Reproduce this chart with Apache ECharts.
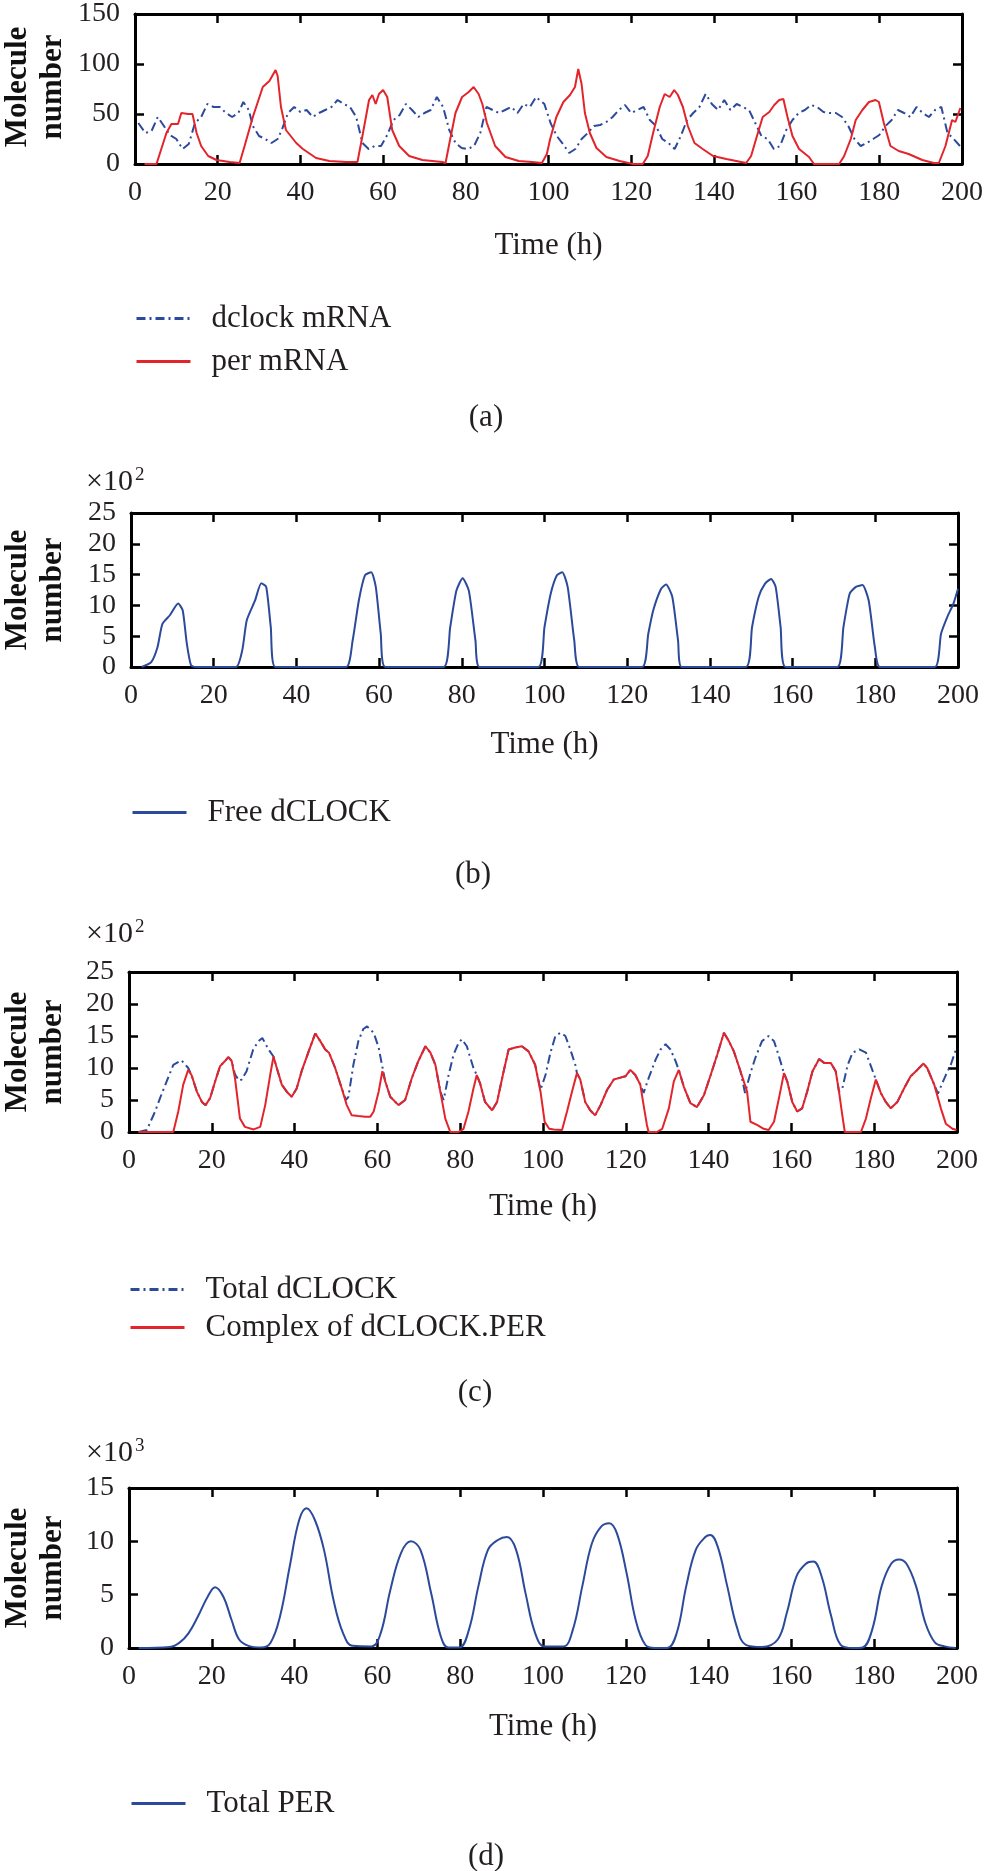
<!DOCTYPE html>
<html><head><meta charset="utf-8">
<script src="https://cdn.jsdelivr.net/npm/echarts@6/dist/echarts.min.js"></script>
<style>html,body{margin:0;padding:0;background:#fff}#c{width:987px;height:1871px}</style>
</head><body><div id="c"></div>
<script>
// ---------- data (time in h, values as plotted) ----------
const xTicks = {min: 0, max: 200, interval: 20};
const yScales = [ {max: 150, interval: 50}, {max: 25, interval: 5}, {max: 25, interval: 5}, {max: 15, interval: 5} ];
const panelLetters = ['(a)', '(b)', '(c)', '(d)'];
const multipliers = [null, '2', '2', '3'];

// (a) dclock mRNA
const dclockMrna = [[0.8,41],[2.5,31],[4,33],[5.5,47],[7,38],[8.4,29],[10,25],[11.5,15],[13,20],[14.5,41],[16,47],[17.5,60],[19,57],[20.5,57],[22,51],[23.5,47],[25,51],[26.2,62],[27.5,54],[28.5,38],[30,28],[31.5,25],[33,21],[34.5,25],[35.5,34],[37,51],[38.5,57],[40,52],[41.5,54],[43,47],[44.5,51],[46,54],[47.5,57],[49,64],[50.5,60],[52,57],[53.5,47],[55,21],[56.5,15],[58,18],[59.5,18],[61,29],[62.5,44],[64,49],[65.5,60],[67,54],[68.5,47],[70,51],[71.5,54],[73,67],[74.5,57],[76,34],[77.5,21],[79,16],[80.5,15],[82,18],[83.5,31],[85,57],[86.5,54],[88,51],[89.5,54],[91,57],[92.5,51],[94,60],[95.5,57],[97,67],[99,60],[100.5,41],[102,28],[103.5,20],[105,11],[106.5,15],[108,25],[109.5,31],[111,38],[112.5,39],[114,42],[115.5,47],[117,54],[118.5,59],[120,51],[121.5,54],[123,57],[124.5,44],[126,38],[127.5,25],[129,21],[130.5,15],[132,28],[133.5,44],[135,51],[136.5,57],[138,70],[139.5,60],[141,54],[142.5,64],[144,54],[145.5,60],[147,57],[148.5,54],[150,41],[151.5,28],[153,25],[154.5,15],[156,18],[157.5,34],[159,44],[160.5,51],[162,54],[163.5,59],[165,57],[166.5,52],[168,51],[169.5,51],[171,47],[172.5,38],[174,25],[175.5,18],[177,21],[178.5,25],[180,29],[181.5,38],[183,44],[184.5,54],[186,51],[187.5,47],[189,57],[190.5,51],[192,47],[193.5,54],[195,57],[196.5,31],[198,25],[199.5,18]];

// (a) per mRNA
const perMrna = [[2.3,0],[5.2,0],[7.6,31],[8.8,40],[10.4,40],[11.2,51],[12.9,50],[13.9,50],[14.9,31],[16,18],[17.7,8],[19.7,4],[22.9,2],[25.3,1],[26.5,18],[28.5,47],[30.9,77],[32.5,83],[34,94],[34.5,88],[35.3,57],[36.5,34],[39,21],[40.6,15],[43.8,6],[47,3],[51,2],[53.8,2],[55,28],[56.6,64],[57.4,69],[58.2,60],[59,70],[60,74],[61,67],[62.2,34],[63.9,18],[66.3,8],[69.5,4],[74.3,2],[75.1,1],[75.9,18],[77.5,51],[79.1,67],[80.7,72],[81.9,77],[83.1,70],[84,60],[85.1,41],[87.1,18],[89.6,7],[92.8,3],[96,2],[98.4,1],[99.6,10],[100.4,25],[101.9,47],[103.6,62],[105.2,69],[106.4,77],[107.2,95],[108,80],[108.8,51],[110,31],[111.6,16],[114,7],[117.2,3],[120.4,0],[122.8,0],[124,8],[125.3,31],[126.9,57],[128.1,70],[129.3,67],[130.4,74],[131.3,69],[132.5,57],[133.7,38],[135.3,21],[137.3,15],[139.8,8],[143,5],[145.4,3],[147.8,1],[149,8],[150.2,25],[151.8,47],[153.4,52],[154.6,59],[155.8,64],[156.8,65],[157.8,47],[159,28],[160.6,15],[163,7],[164.2,0],[170.3,0],[171.5,8],[173.1,25],[174.3,44],[175.9,54],[177.5,62],[179.1,64],[179.9,62],[181.1,41],[182.7,18],[184.7,13],[187.1,10],[190.4,4],[193.2,1],[194.4,1],[196,18],[197.6,44],[198.4,42],[199.6,56]];

// (b) free dCLOCK (x10^2)
const freeDclock = [[2.6,0],[4.9,0.8],[6.4,3.2],[7.6,7],[9.4,8.4],[11.4,10.3],[12.5,9.2],[13.5,3.8],[14.5,0.3],[15.5,0],[25.4,0],[26.9,2.7],[28,7.6],[30,10.8],[31.5,13.6],[32.7,13],[33.8,6.5],[34.9,0],[52,0],[53.6,4.3],[55.1,10.8],[56.6,14.9],[58.1,15.4],[59.2,13],[60.4,5.4],[61.5,0],[75.6,0],[77.2,6.5],[78.7,12.4],[80.2,14.4],[81.7,12.4],[83.3,4.3],[84.3,0],[98.5,0],[100,6.5],[101.5,11.9],[103,14.9],[104.3,15.4],[105.6,13],[107.2,4.3],[108.4,0],[123.6,0],[125.1,5.4],[126.3,9.2],[128.2,12.7],[129.4,13.4],[130.9,11.4],[132.3,4.3],[133.2,0],[148.7,0],[150.2,6.5],[151.8,11.4],[153.3,13.5],[154.8,14.3],[155.9,13],[157.1,6.5],[158.3,0],[170.8,0],[172.3,6.5],[173.8,11.9],[175.3,13],[176.9,13.3],[178.4,10.8],[179.9,3.2],[181.1,0],[194.4,0],[195.9,5.4],[197.4,8.1],[198.9,10.3],[200,12.7]];

// (c) total dCLOCK (x10^2)
const totalDclock = [[2.3,0],[4.3,0.3],[6.3,3.2],[7.5,5.3],[9.1,7.9],[10.7,10.5],[12.7,11.2],[14.3,10],[15.1,8.9],[16.4,6.3],[17.6,4.7],[18.5,4.2],[19.6,5.3],[20.8,7.9],[22,10.3],[23.2,11.1],[24,11.7],[24.8,11.1],[25.6,9.0],[26.6,8.0],[27.2,8.2],[28.4,9.5],[30,12.9],[31.3,14.2],[32.2,14.7],[33.7,12.9],[34.9,11.8],[35.7,10],[36.9,7.4],[38.1,6.3],[39.3,5.5],[40.5,6.8],[41.7,9.5],[43.4,12.6],[45,15.4],[46.2,14.2],[47.4,12.9],[48.3,12.4],[49.8,10],[51.4,6.8],[52.4,5.0],[53,5.5],[54.2,10.5],[55.4,14.2],[56.6,16.1],[57.5,16.5],[59.1,15.5],[60.3,13.2],[61.1,10.5],[61.9,7.9],[63.1,5.5],[65.1,4.2],[66.7,5],[68.3,8.4],[69.9,11.1],[71.6,13.4],[72.8,12.4],[74,10.5],[75.2,6.3],[76,5],[77.2,8.9],[78.4,12.1],[79.6,13.9],[80.4,14.5],[81.6,13.4],[83.2,10],[84,8.9],[84.8,7.6],[86,4.7],[87.7,3.4],[88.9,4.7],[90.5,9.5],[91.7,12.9],[93.3,13.2],[94.9,13.4],[96.5,12.6],[98.1,10.5],[99.4,6.6],[100.6,8.9],[101.8,12.4],[103,15],[104.2,15.5],[105.4,15],[106.6,12.9],[107.8,10.5],[108.2,9.2],[109,8.2],[110.2,4.7],[111.4,3.4],[112.6,2.6],[113.9,4.2],[115.5,6.6],[117.1,8.2],[118.7,8.5],[119.9,8.7],[121.1,9.7],[122.3,8.9],[123.5,7.4],[124.3,6.1],[125.5,8.4],[127.2,11.3],[128.4,12.9],[129.6,13.7],[130.8,12.9],[132,11.1],[132.8,9.7],[134,7.1],[135.6,4.5],[137.2,3.9],[138.9,5.8],[140.5,8.9],[142.1,12.1],[143.7,15.5],[144.9,14.2],[146.1,12.6],[147.7,9.5],[148.8,6.1],[150.1,9.2],[151.3,11.6],[152.9,14.2],[154.5,15],[155.8,14.2],[157,11.8],[158.2,9.2],[159,7.9],[160.2,4.7],[161.4,3.2],[162.6,3.7],[163.8,6.3],[165.1,9.5],[166.7,11.4],[167.9,10.8],[169.5,10.8],[170.7,9.5],[171.5,6.3],[172.3,6.8],[173.6,10.5],[174.8,12.4],[176.4,12.9],[178,12.4],[179.2,10.3],[180.4,8.2],[181.6,6.1],[182.8,4.7],[184,3.7],[185.6,4.7],[187.2,6.8],[188.8,8.7],[190.4,9.7],[191.9,10.7],[192.8,10],[194.5,7.4],[195.4,6.0],[196.1,7.1],[197.3,8.9],[198.5,10.5],[199.9,13.2]];

// (c) complex of dCLOCK.PER (x10^2)
const complexDclockPer = [[2.3,0],[10.7,0],[11.9,3.2],[13.1,7.4],[14.3,9.7],[15.1,8.9],[16.4,6.3],[17.6,4.7],[18.5,4.2],[19.6,5.3],[20.8,7.9],[22,10.3],[23.2,11.1],[24,11.7],[24.8,11.1],[25.6,8.4],[26.8,2.1],[28,0.8],[30.1,0.4],[31.7,0.8],[32.9,4.2],[34.1,8.9],[34.9,11.8],[35.7,10],[36.9,7.4],[38.1,6.3],[39.3,5.5],[40.5,6.8],[41.7,9.5],[43.4,12.6],[45,15.4],[46.2,14.2],[47.4,12.9],[48.3,12.4],[49.8,10],[51.4,6.8],[52.6,4.2],[53.8,2.6],[55.4,2.5],[57.1,2.4],[58.3,2.4],[59.1,3.2],[60.3,6.3],[61.2,9.5],[61.9,7.9],[63.1,5.5],[65.1,4.2],[66.7,5],[68.3,8.4],[69.9,11.1],[71.6,13.4],[72.8,12.4],[74,10.5],[75.2,6.3],[76.4,2.1],[77.6,0],[79.6,0],[80.8,0.5],[82,3.2],[83.2,6.8],[84,8.9],[84.8,7.6],[86,4.7],[87.7,3.4],[88.9,4.7],[90.5,9.5],[91.7,12.9],[93.3,13.2],[94.9,13.4],[96.5,12.6],[98.1,10.5],[99.4,6.3],[100.4,1.6],[101.5,0.5],[102.6,0.4],[104.6,0.3],[105.8,3.2],[107,6.3],[108.2,9.2],[109,8.2],[110.2,4.7],[111.4,3.4],[112.6,2.6],[113.9,4.2],[115.5,6.6],[117.1,8.2],[118.7,8.5],[119.9,8.7],[121.1,9.7],[122.3,8.9],[123.5,7.4],[124.3,4.2],[125.1,1.1],[125.5,0],[127.5,0],[128.8,0.5],[130.4,3.7],[131.6,7.9],[132.8,9.7],[134,7.1],[135.6,4.5],[137.2,3.9],[138.9,5.8],[140.5,8.9],[142.1,12.1],[143.7,15.5],[144.9,14.2],[146.1,12.6],[147.7,9.5],[149.3,6.3],[150.1,1.6],[151.7,1.1],[153.3,0.5],[154.5,0.3],[155.8,1.6],[157,5.3],[158.2,9.2],[159,7.9],[160.2,4.7],[161.4,3.2],[162.6,3.7],[163.8,6.3],[165.1,9.5],[166.7,11.4],[167.9,10.8],[169.5,10.8],[170.7,9.5],[171.5,6.3],[172.3,2.6],[172.9,0],[176.8,0],[178,2.1],[179.2,5.3],[180.4,8.2],[181.6,6.1],[182.8,4.7],[184,3.7],[185.6,4.7],[187.2,6.8],[188.8,8.7],[190.4,9.7],[191.9,10.7],[192.8,10],[194.5,7.4],[196.1,3.7],[197.3,1.3],[198.9,0.5],[199.9,0.3]];

// (d) total PER (x10^3)
const totalPer = [[2.3,0],[9.9,0.1],[12.2,0.5],[14.4,1.4],[16.7,3],[19,4.8],[20.8,5.7],[22.8,4.8],[24.8,2.6],[26.6,0.8],[28.9,0.2],[31.9,0.05],[34.2,0.5],[36.5,3],[38.8,7.6],[41.1,12],[42.9,13.1],[44.9,12],[47.1,9.2],[49.4,4.5],[51.7,1.4],[54,0.2],[58.6,0.15],[60.8,1.4],[63.1,5.4],[65.7,8.9],[68.1,10],[70.4,9.2],[73,5.1],[75.3,1.1],[77.1,0.05],[79.8,0.05],[82.1,1.7],[84.4,5.8],[86.7,9.2],[89,10.1],[91.3,10.4],[93.5,9.2],[95.8,5.1],[98.1,1.4],[100.4,0.15],[104.9,0.15],[107.2,1.7],[109.5,5.8],[111.8,9.8],[114.1,11.4],[116,11.7],[117.9,10.7],[120.2,7],[122.4,2.6],[124.7,0.3],[127,0],[130,0],[132.3,1.4],[134.6,5.8],[136.9,9.2],[139.2,10.4],[140.4,10.6],[142.2,9.5],[144.5,5.8],[146.8,2],[149,0.3],[152.9,0.1],[156.7,0.8],[158.9,3.3],[161.2,6.7],[163.5,7.9],[165.3,8.1],[167.3,6.7],[169.6,3],[171.9,0.3],[174.9,0],[177.2,0.05],[179.5,1.7],[181.8,5.8],[184.1,7.9],[186,8.3],[187.8,7.9],[190.1,5.8],[192.4,2.3],[194.7,0.5],[197,0.15],[199.7,0]];

// ---------- layout / style ----------
const RED = '#e3242b', BLUE = '#2c4a9b', INK = '#231f20';
const SERIF = 'Liberation Serif';
const grids = [
  {left: 135, top: 10, width: 827, height: 154},
  {left: 131, top: 513, width: 827, height: 154},
  {left: 129, top: 972, width: 828, height: 160},
  {left: 129, top: 1488, width: 828, height: 160}
];
const legendPos = [{left: 135, top: 303, gap: 12}, {left: 131, top: 797, gap: 12}, {left: 129, top: 1274, gap: 7}, {left: 130, top: 1788, gap: 12}];
const timeLabelY = [246, 745, 1207, 1727];
const letterX = [486, 473, 475, 486];
const letterY = [418, 875, 1393, 1857];
const multY = [0, 482, 934, 1453];

const xAxes = [], yAxes = [];
const axisLine = {show: true, onZero: false, lineStyle: {color: '#000', width: 3}};
const axisTick = {show: true, inside: true, length: 9, lineStyle: {color: '#000', width: 2.5}};
grids.forEach((g, i) => {
  const base = {gridIndex: i, type: 'value', min: xTicks.min, max: xTicks.max, interval: xTicks.interval,
    axisLine, axisTick, splitLine: {show: false}};
  xAxes.push(Object.assign({}, base, {position: 'bottom',
    axisLabel: {fontFamily: SERIF, fontSize: 28, color: INK, margin: 15}}));
  xAxes.push(Object.assign({}, base, {position: 'top', axisLabel: {show: false}}));
  const yb = {gridIndex: i, type: 'value', min: 0, max: yScales[i].max, interval: yScales[i].interval,
    axisLine, axisTick, splitLine: {show: false}};
  yAxes.push(Object.assign({}, yb, {position: 'left',
    axisLabel: {fontFamily: SERIF, fontSize: 28, color: INK, margin: 15}}));
  yAxes.push(Object.assign({}, yb, {position: 'right', axisLabel: {show: false}}));
});

function line(name, data, gi, color, dashed, smooth) {
  return {type: 'line', name, data, xAxisIndex: 2 * gi, yAxisIndex: 2 * gi, symbol: 'none',
    smooth: smooth || false, animation: false,
    lineStyle: {color, width: 2, type: dashed ? [9, 4, 2, 4] : 'solid'}, itemStyle: {color}};
}
const series = [
  line('dclock mRNA', dclockMrna, 0, BLUE, true),
  line('per mRNA', perMrna, 0, RED, false),
  line('Free dCLOCK', freeDclock, 1, BLUE, false, 0.2),
  line('Total dCLOCK', totalDclock, 2, BLUE, true),
  line('Complex of dCLOCK.PER', complexDclockPer, 2, RED, false),
  line('Total PER', totalPer, 3, BLUE, false, 0.4)
];
const legendNames = [['dclock mRNA', 'per mRNA'], ['Free dCLOCK'], ['Total dCLOCK', 'Complex of dCLOCK.PER'], ['Total PER']];
const legends = legendNames.map((names, i) => ({
  data: names, orient: 'vertical', left: legendPos[i].left, top: legendPos[i].top, itemGap: legendPos[i].gap,
  itemWidth: 54, itemHeight: 14, selectedMode: false, padding: 0,
  itemStyle: {opacity: 0}, lineStyle: {width: 3},
  textStyle: {fontFamily: SERIF, fontSize: 31, color: INK, padding: [0, 0, 0, 16]}
}));

const graphics = [];
grids.forEach((g, i) => {
  const cx = g.left + g.width / 2, cy = g.top + g.height / 2;
  graphics.push({type: 'text', x: 35, y: cy, rotation: Math.PI / 2,
    style: {text: 'Molecule\nnumber', font: 'bold 31px "' + SERIF + '"', fill: '#111', align: 'center', verticalAlign: 'middle',
      textAlign: 'center', textVerticalAlign: 'middle', lineHeight: 35}});
  graphics.push({type: 'text', x: cx, y: timeLabelY[i],
    style: {text: 'Time (h)', font: '31px "' + SERIF + '"', fill: INK, align: 'center', verticalAlign: 'middle',
      textAlign: 'center', textVerticalAlign: 'middle'}});
  graphics.push({type: 'text', x: letterX[i], y: letterY[i],
    style: {text: panelLetters[i], font: '31px "' + SERIF + '"', fill: INK, align: 'center', verticalAlign: 'middle',
      textAlign: 'center', textVerticalAlign: 'middle'}});
  if (multipliers[i]) {
    graphics.push({type: 'text', x: 86, y: multY[i],
      style: {text: '\u00d710', font: '30px "' + SERIF + '"', fill: INK, align: 'left', verticalAlign: 'middle',
        textAlign: 'left', textVerticalAlign: 'middle'}});
    graphics.push({type: 'text', x: 135, y: multY[i] - 7,
      style: {text: multipliers[i], font: '19px "' + SERIF + '"', fill: INK, align: 'left', verticalAlign: 'middle',
        textAlign: 'left', textVerticalAlign: 'middle'}});
  }
});

const chart = echarts.init(document.getElementById('c'));
chart.setOption({
  animation: false,
  backgroundColor: '#fff',
  grid: grids,
  xAxis: xAxes,
  yAxis: yAxes,
  legend: legends,
  series,
  graphic: graphics
});
</script></body></html>
